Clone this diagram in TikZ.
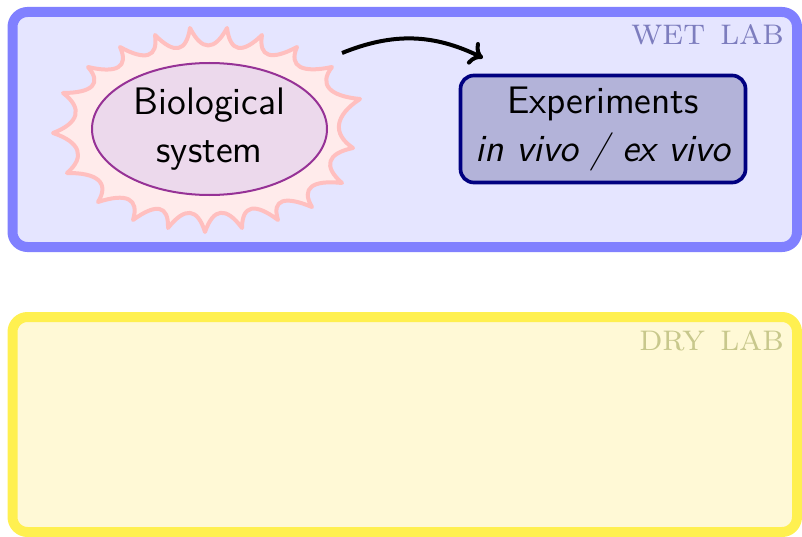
\documentclass[tikz,border=0pt]{standalone}
\usepackage{fontspec}
\usetikzlibrary{calc,shapes.geometric,arrows.meta}

\definecolor{wetfill}{RGB}{229,229,255}
\definecolor{wetline}{RGB}{128,128,255}
\definecolor{wettext}{RGB}{125,125,190}
\definecolor{dryfill}{RGB}{255,249,214}
\definecolor{dryline}{RGB}{255,240,80}
\definecolor{drytext}{RGB}{200,200,140}
\definecolor{burstfill}{RGB}{255,235,235}
\definecolor{burstline}{RGB}{255,191,191}
\definecolor{biofill}{RGB}{236,217,236}
\definecolor{bioline}{RGB}{150,50,150}
\definecolor{expfill}{RGB}{179,179,217}
\definecolor{expline}{RGB}{0,0,128}

\tikzset{
  labarea/.style={rounded corners=4.5pt, line width=3pt},
  labtitle/.style={anchor=base east, inner sep=0pt,
    font=\fontsize{11.3}{13}\selectfont\scshape},
  bodytext/.style={font=\fontsize{11.5}{14.4}\selectfont\sffamily,
    align=center, inner sep=0pt},
  burst/.style={draw=burstline, fill=burstfill, line width=1.2pt, line join=round},
  organism/.style={bodytext, ellipse, draw=bioline, fill=biofill, line width=0.6pt,
    minimum width=70.5pt, minimum height=39.6pt},
  experiment/.style={bodytext, rectangle, rounded corners=4pt, draw=expline,
    fill=expfill, line width=1.1pt, minimum width=85.5pt, minimum height=32.1pt},
  flow/.style={-{To[length=3.8pt,width=7.4pt]}, line width=1.2pt, black}
}

\begin{document}
\begin{tikzpicture}[x=0.3pt,y=-0.3pt]
  \useasboundingbox (0,0) rectangle (802,536);

  % the two lab areas
  \draw[labarea, draw=wetline, fill=wetfill] (12.5,12) rectangle (797,247);
  \draw[labarea, draw=dryline, fill=dryfill] (12.5,317) rectangle (797,532);
  \node[labtitle, text=wettext] (wettitle) at (785,45) {wet lab};
  \node[labtitle, text=drytext] (drytitle) at (785,350) {dry lab};

  % spiky outline around the biological system
  \coordinate (c) at (207,130);
  \foreach \n/\x/\y in {1/190/28, 2/227/28, 3/262/35, 4/297/47, 5/332/67,
      6/360/99, 7/353/148, 8/342/183, 9/312/207, 10/278/220, 11/242/228,
      12/205/232, 13/168/228, 14/133/220, 15/98/202, 16/67/173, 17/53/133,
      18/63/93, 19/88/67, 20/120/47, 21/155/35}
    \coordinate (p\n) at (\x,\y);
  \draw[burst] (p1)
    \foreach \n/\m in {1/2,2/3,3/4,4/5,5/6,6/7,7/8,8/9,9/10,10/11,11/12,
        12/13,13/14,14/15,15/16,16/17,17/18,18/19,19/20,20/21,21/1}
    { .. controls ($($(p\n)!0.28!(p\m)$)!7pt!(c)$)
             and ($($(p\n)!0.72!(p\m)$)!7pt!(c)$) .. (p\m) } -- cycle;

  \node[organism] (bio) at (209.5,129) {Biological\\system};

  \node[experiment] (exp) at (603,129)
    {Experiments\\\itshape in vivo / ex vivo};

  % arrow from the system towards the experiments
  \coordinate (from) at (342,53);
  \coordinate (to) at (483,58);
  \draw[flow] (from) to[bend left=24] (to);
\end{tikzpicture}
\end{document}
